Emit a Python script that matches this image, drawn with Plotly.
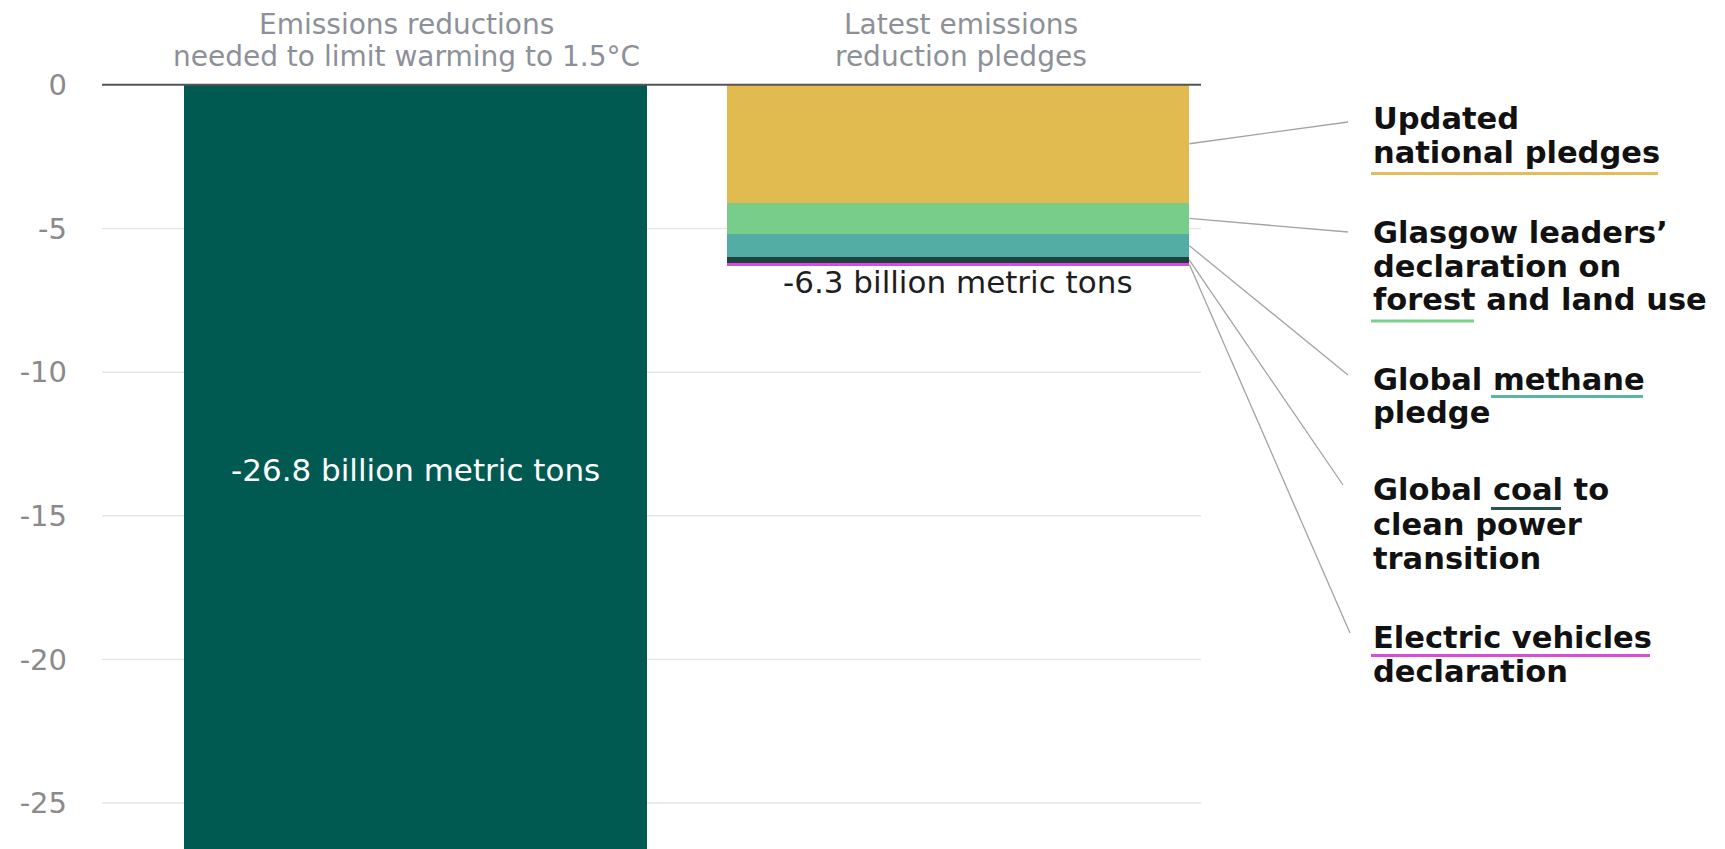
import plotly.graph_objects as go

# ---------------- data ----------------
categories = ["Emissions reductions<br>needed to limit warming to 1.5°C",
              "Latest emissions<br>reduction pledges"]
needed_values = [-26.8]
pledge_names = ["Updated national pledges",
                "Glasgow leaders’ declaration on forest and land use",
                "Global methane pledge",
                "Global coal to clean power transition",
                "Electric vehicles declaration"]
pledge_values = [-4.1, -1.1, -0.8, -0.2, -0.1]
tick_values = [0, -5, -10, -15, -20, -25]
tick_labels = ["0", "-5", "-10", "-15", "-20", "-25"]

# label lines (text layout)
label_lines = [["Updated", "national pledges"],
               ["Glasgow leaders’", "declaration on", "forest and land use"],
               ["Global methane", "pledge"],
               ["Global coal to", "clean power", "transition"],
               ["Electric vehicles", "declaration"]]

# ---------------- style ----------------
NEEDED_COLOR = "#005a52"
pledge_colors = ["#e1bb50", "#78cd8a", "#53ada5", "#1f4240", "#dc4cdc"]
underline_colors = ["#e3bd5b", "#7ccf8c", "#5bb5ab", "#2a5450", "#d84ed8"]
FONT = "DejaVu Sans"

OFF = 8                     # page body margin
SW, SH = 1725, 849          # screen size
W, H = SW - OFF, SH - OFF   # figure size
ML, MR, MT, MB = 102 - OFF, 0, 82 - OFF, 0
Y_MIN, Y_MAX = -26.6, 0.1
BAR_W = 0.853
X_MIN = -0.5779
X_MAX = X_MIN + (W - ML - MR) / 542.5
GRID_END = (1201 - OFF - ML) / (W - ML - MR)


def xd(px):
    """screen px -> x data"""
    return X_MIN + (px - OFF - ML) / (W - ML - MR) * (X_MAX - X_MIN)


def yd(px):
    """screen px -> y data"""
    return Y_MAX - (px - OFF - MT) / (H - MT - MB) * (Y_MAX - Y_MIN)


def yp(px):
    """screen px -> y paper"""
    return 1 - (px - OFF - MT) / (H - MT - MB)


fig = go.Figure()
fig.add_trace(go.Bar(x=[0], y=needed_values, width=BAR_W,
                     marker=dict(color=NEEDED_COLOR, line=dict(width=0)),
                     name=categories[0], hoverinfo="y"))
for name, v, c in zip(pledge_names, pledge_values, pledge_colors):
    fig.add_trace(go.Bar(x=[1], y=[v], width=BAR_W,
                         marker=dict(color=c, line=dict(width=0)),
                         name=name, hoverinfo="name+y"))

shapes = []
for v in tick_values[1:]:
    shapes.append(dict(type="line", xref="paper", yref="y", x0=0, x1=GRID_END,
                       y0=v, y1=v, line=dict(color="#e6e6e6", width=1.5),
                       layer="below"))
shapes.append(dict(type="line", xref="paper", yref="y", x0=0, x1=GRID_END,
                   y0=0, y1=0, line=dict(color="#555555", width=2), layer="above"))

# leader lines
leader_end_px = [(1348, 122), (1348, 232), (1348, 375), (1343, 485), (1350, 633)]
cum = 0.0
for v, (ex, ey) in zip(pledge_values, leader_end_px):
    mid = cum + v / 2
    cum += v
    shapes.append(dict(type="line", xref="x", yref="y",
                       x0=1 + BAR_W / 2, y0=mid, x1=xd(ex), y1=yd(ey),
                       line=dict(color="#a3a3a3", width=1.3), layer="above"))

# underlines (x0px, x1px, ypx) in screen px
underline_px = [(1371, 1658, 173.5), (1371, 1474, 321), (1491, 1643, 396.5),
                (1491, 1561, 508.5), (1371, 1650, 655.5)]
for (x0, x1, y), c in zip(underline_px, underline_colors):
    shapes.append(dict(type="line", xref="x", yref="y", x0=xd(x0), x1=xd(x1),
                       y0=yd(y), y1=yd(y), line=dict(color=c, width=3)))

annotations = []
# column titles
TITLE_SIZE = 28
title_baseline_px = [34.5, 66]
title_xshift = [-9, 3]
for i, cat in enumerate(categories):
    for j, line in enumerate(cat.split("<br>")):
        annotations.append(dict(x=i, xref="x",
                                y=yp(title_baseline_px[j] - 0.346 * TITLE_SIZE),
                                yref="paper", text=line, showarrow=False,
                                xanchor="center", yanchor="middle",
                                xshift=title_xshift[i],
                                font=dict(family=FONT, size=TITLE_SIZE,
                                          color="#8c9098")))

# value labels
annotations.append(dict(x=0, xref="x", y=needed_values[0] / 2, yref="y",
                        text=f"{needed_values[0]:.1f} billion metric tons",
                        showarrow=False, xanchor="center", yanchor="middle",
                        font=dict(family=FONT, size=31, color="#ffffff")))
total = sum(pledge_values)
annotations.append(dict(x=1, xref="x", y=total, yref="y",
                        text=f"{total:.1f} billion metric tons",
                        showarrow=False, xanchor="center", yanchor="middle",
                        yshift=-16.6,
                        font=dict(family=FONT, size=31, color="#1e1e1e")))

# right-hand labels (baselines in screen px)
LABEL_SIZE = 30.5
label_baseline_px = [[129, 163], [243, 277, 310.5], [390, 423],
                     [500.5, 535, 569.5], [648.5, 682.5]]
for lines, bases in zip(label_lines, label_baseline_px):
    for line, b in zip(lines, bases):
        annotations.append(dict(x=xd(1371), xref="x", y=yd(b - 0.346 * LABEL_SIZE),
                                yref="y", text=line, showarrow=False,
                                xanchor="left", yanchor="middle",
                                font=dict(family=FONT, size=LABEL_SIZE,
                                          color="#111111", weight="bold")))

fig.update_layout(
    width=W, height=H,
    margin=dict(l=ML, r=MR, t=MT, b=MB, pad=0),
    barmode="relative", bargap=0,
    plot_bgcolor="#ffffff", paper_bgcolor="#ffffff",
    showlegend=False,
    shapes=shapes, annotations=annotations,
    xaxis=dict(range=[X_MIN, X_MAX], showticklabels=False, showgrid=False,
               zeroline=False, showline=False, fixedrange=True),
    yaxis=dict(range=[Y_MIN, Y_MAX], tickvals=tick_values, ticktext=tick_labels,
               showgrid=False, zeroline=False, showline=False, ticks="",
               ticklabelstandoff=34, fixedrange=True,
               tickfont=dict(family=FONT, size=29, color="#8a8a8a")),
)

fig.write_html("out.html")
